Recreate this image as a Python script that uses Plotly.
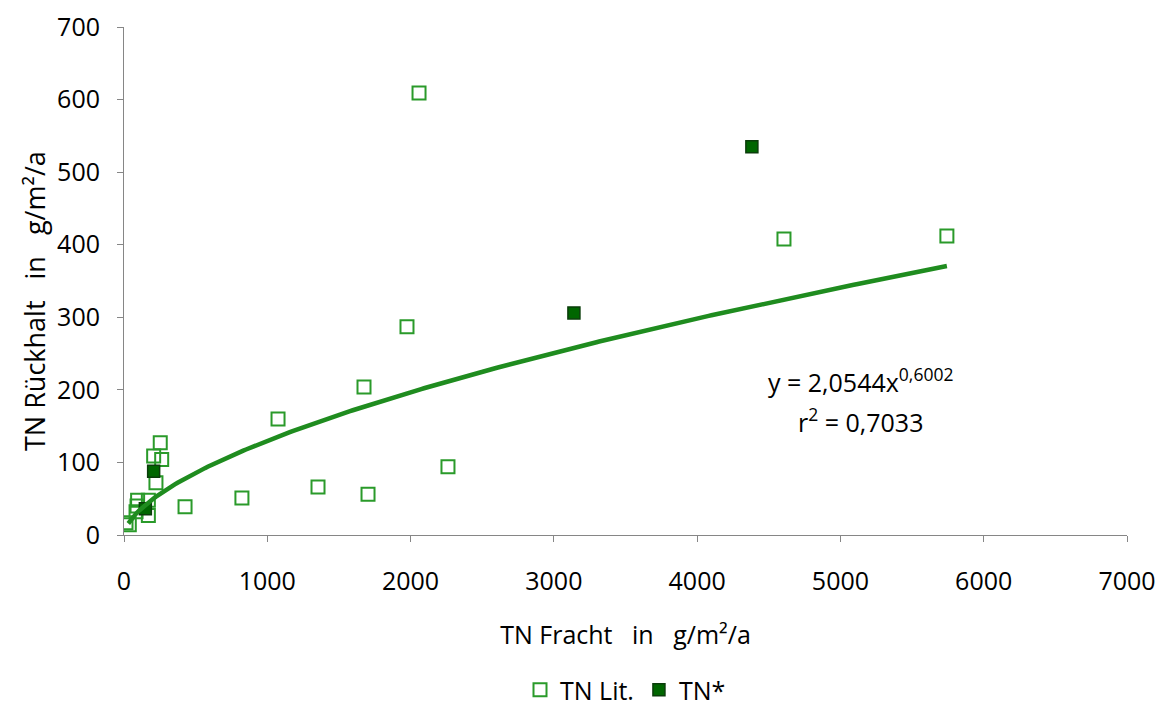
import numpy as np
import plotly.graph_objects as go

lit_x = [2059, 4606, 5743, 1975, 1675, 1075, 2261, 1354, 1703, 823, 426,
         253, 207, 263, 223, 95, 170, 84, 170, 37, 14, 91]
lit_y = [609, 408, 412, 287, 204, 160, 94, 66, 56, 51, 39,
         127, 109, 104, 72, 48, 48, 32, 27, 14, 17, 40]
tn_x = [207, 149, 3140, 4382]
tn_y = [88, 36, 306, 535]
coef_a = 2.0544
coef_b = 0.6002
fit_x = np.linspace(30, 5743, 300)
fit_y = coef_a * fit_x ** coef_b

fig = go.Figure()
fig.add_trace(go.Scatter(x=lit_x, y=lit_y, mode="markers", name="TN Lit.",
                         marker=dict(symbol="square-open", size=13, color="#2a9a2a",
                                     line=dict(width=2, color="#2a9a2a"))))
fig.add_trace(go.Scatter(x=tn_x, y=tn_y, mode="markers", name="TN*",
                         marker=dict(symbol="square", size=12, color="#006600",
                                     line=dict(width=1.5, color="#0a3d0a"))))
fig.add_trace(go.Scatter(x=fit_x, y=fit_y, mode="lines", showlegend=False,
                         line=dict(color="#1f8c1f", width=4.5)))

fig.add_annotation(x=0.734, y=0.305, xref="paper", yref="paper", xanchor="center", yanchor="middle",
                   text="y = 2,0544x<sup>0,6002</sup>",
                   showarrow=False, font=dict(size=25, color="black", family="Open Sans"))
fig.add_annotation(x=0.734, y=0.226, xref="paper", yref="paper", xanchor="center", yanchor="middle",
                   text="r<sup>2</sup> = 0,7033",
                   showarrow=False, font=dict(size=25, color="black", family="Open Sans"))
fig.add_annotation(x=-0.089, y=0.46, xref="paper", yref="paper", xanchor="center", yanchor="middle",
                   text="TN Rückhalt   in   g/m²/a", textangle=-90,
                   showarrow=False, font=dict(size=27, color="black", family="Open Sans"))

axis_common = dict(showgrid=False, zeroline=False, showline=True, linecolor="#868686",
                   linewidth=1, ticks="outside", ticklen=6, tickcolor="#868686",
                   tickfont=dict(size=25, color="black"))
fig.update_xaxes(range=[0, 7000], dtick=1000, ticklabelstandoff=18,
                 title=dict(text="TN Fracht   in   g/m²/a", font=dict(size=25), standoff=30), **axis_common)
fig.update_yaxes(range=[0, 700], dtick=100, ticklabelstandoff=12, **axis_common)

fig.update_layout(width=1164, height=708, plot_bgcolor="white", paper_bgcolor="white",
                  margin=dict(l=116, r=45, t=19, b=181, autoexpand=False),
                  font=dict(family="Open Sans", color="black"),
                  legend=dict(orientation="h", x=0.5, xanchor="center", y=-0.26, yanchor="top",
                              font=dict(size=25), itemwidth=30))
fig.write_html("out.html")
